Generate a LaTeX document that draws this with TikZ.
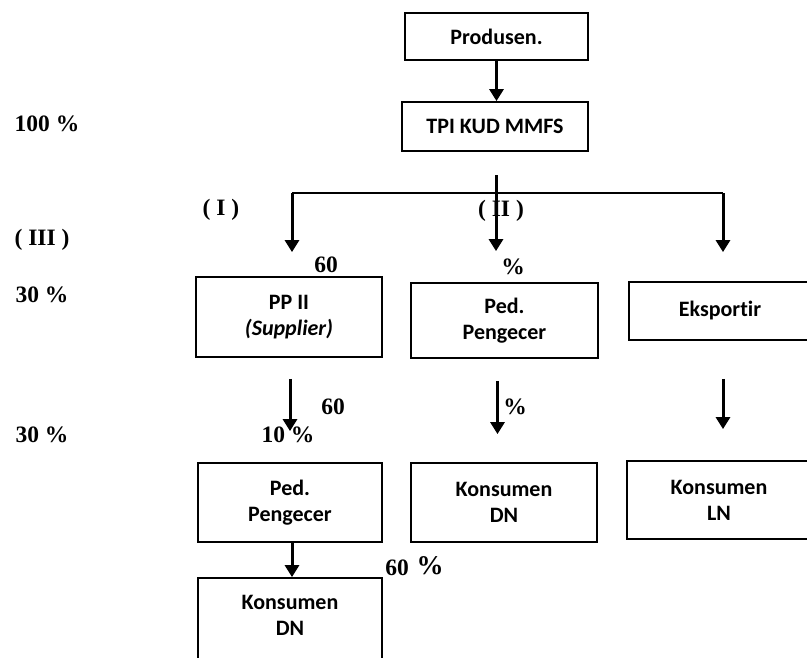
\documentclass[tikz,border=0pt]{standalone}
\usepackage{fontspec}
\setmainfont{Liberation Serif}
\newfontfamily\boxfont[Ligatures=NoCommon]{Carlito}
\usetikzlibrary{arrows.meta}
\tikzstyle{box}=[draw,line width=1.8pt,inner sep=0pt,align=center,font=\boxfont\bfseries\fontsize{22}{26}\selectfont]
\tikzstyle{link}=[draw,line width=2.4pt]
\tikzstyle{arrow}=[draw,line width=3pt,-{Triangle[width=14pt,length=12pt]}]
\tikzstyle{pct}=[font=\bfseries\fontsize{23.5}{26}\selectfont]

\begin{document}
\begin{tikzpicture}[x=1pt,y=-1pt]
    \useasboundingbox (0,0) rectangle (807,657);
    % First we draw the boxes
    \foreach \pos/\name/\w/\h/\txt in {{(496.5,36.5)/prod/183/47/Produsen.},
        {(495,126.5)/tpi/186/49/TPI KUD MMFS},
        {(289,317)/pp/186/80/PP II\\\textit{(Supplier)}},
        {(504.5,320.5)/ped/187/75/Ped.\\Pengecer},
        {(720,311)/eks/182/58/Eksportir},
        {(290,502.5)/ped2/184/79/Ped.\\Pengecer},
        {(504,502.5)/kdn/186/79/Konsumen\\DN},
        {(719,500)/kln/184/78/Konsumen\\LN}}
        \node[box, minimum width=\w pt, minimum height=\h pt] (\name) at \pos {\txt};
    \node[box, minimum width=184pt, minimum height=90pt, text depth=15pt] (kdn2) at (290,623) {Konsumen\\DN};

    % Connect boxes with arrows
    \coordinate (hl) at (292,193);
    \coordinate (hr) at (723,193);
    \coordinate (top) at (496,175);
    \path[arrow] (prod.south) -- (prod.south |- tpi.north);
    \path[link] (hl) -- (hr);
    \path[arrow, shorten >=31pt] (top) -- (top |- ped.north);
    \path[arrow, shorten >=24pt] (hl) -- (hl |- pp.north);
    \path[arrow, shorten >=29pt] (hr) -- (hr |- eks.north);
    \path[arrow, shorten <=21pt, shorten >=31pt] ([xshift=1pt]pp.south) -- ([xshift=1pt]pp.south |- ped2.north);
    \path[arrow, shorten <=22pt, shorten >=28pt] ([xshift=-7pt]ped.south) -- ([xshift=-7pt]ped.south |- kdn.north);
    \path[arrow, shorten <=38pt, shorten >=31pt] ([xshift=3pt]eks.south) -- ([xshift=3pt]eks.south |- kln.north);
    \path[arrow] ([xshift=2pt]ped2.south) -- ([xshift=2pt]ped2.south |- kdn2.north);

    % Percentages and levels
    \foreach \pos/\name/\txt in {{(47,124)/p100/100 \%}, {(221,210)/lvI/( I )},
        {(501,211)/lvII/( II )}, {(42,240)/lvIII/( III )},
        {(42,295)/p30a/30 \%}, {(42,435)/p30b/30 \%},
        {(326,265)/p60a/60}, {(513,267)/pa/\%}, {(333,407)/p60b/60},
        {(288,435)/p10/10 \%}, {(515,407)/pb/\%}, {(397,568)/p60c/60}}
        \node[pct] (\name) at \pos {\txt};
    \node[pct, font=\bfseries\fontsize{27}{30}\selectfont] (pc) at (430,566) {\%};
\end{tikzpicture}
\end{document}
